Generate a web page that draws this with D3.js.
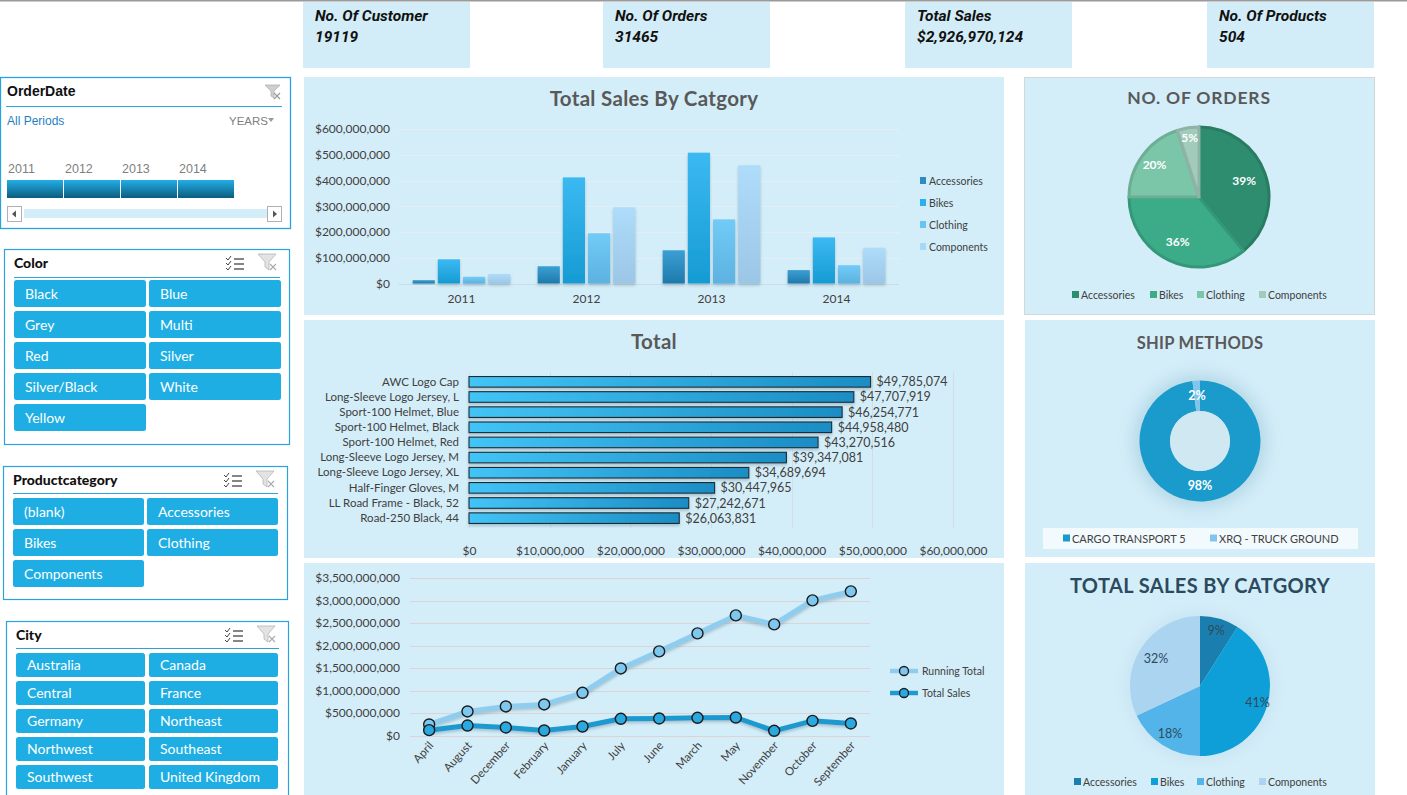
<!DOCTYPE html>
<html><head><meta charset="utf-8">
<script src="https://cdn.jsdelivr.net/npm/d3@7"></script>
<style>
body{margin:0;background:#fff;overflow:hidden;}
svg{display:block;}
text{font-family:Lato,"Noto Sans",sans-serif;}
</style></head><body>
<svg id="c" width="1407" height="795"></svg>
<script>
// ---------------- DATA ----------------
const kpiLabels = ["No. Of Customer","No. Of Orders","Total Sales","No. Of Products"];
const kpiValues = ["19119","31465","$2,926,970,124","504"];

const years = ["2011","2012","2013","2014"];
const categories = ["Accessories","Bikes","Clothing","Components"];
const salesAccessories = [13e6, 67e6, 129e6, 52e6];
const salesBikes = [94e6, 412e6, 508e6, 179e6];
const salesClothing = [26e6, 195e6, 249e6, 71e6];
const salesComponents = [37e6, 296e6, 459e6, 139e6];
const salesTicks = [0,1e8,2e8,3e8,4e8,5e8,6e8];

const products = ["AWC Logo Cap","Long-Sleeve Logo Jersey, L","Sport-100 Helmet, Blue","Sport-100 Helmet, Black","Sport-100 Helmet, Red","Long-Sleeve Logo Jersey, M","Long-Sleeve Logo Jersey, XL","Half-Finger Gloves, M","LL Road Frame - Black, 52","Road-250 Black, 44"];
const productSales = [49785074,47707919,46254771,44958480,43270516,39347081,34689694,30447965,27242671,26063831];
const productTicks = [0,1e7,2e7,3e7,4e7,5e7,6e7];

const months = ["April","August","December","February","January","July","June","March","May","November","October","September"];
const runningTotal = [245e6,534e6,645e6,690e6,949e6,1490e6,1869e6,2269e6,2669e6,2469e6,3003e6,3203e6];
const totalSales = [119e6,222e6,178e6,111e6,200e6,371e6,378e6,393e6,400e6,104e6,326e6,267e6];
const lineTicks = [0,5e8,1e9,1.5e9,2e9,2.5e9,3e9,3.5e9];

const orderShare = [39,36,20,5];
const shipMethods = ["CARGO TRANSPORT 5","XRQ - TRUCK GROUND"];
const shipShare = [98,2];
const salesShare = [9,41,18,32];

const slicerYears = ["2011","2012","2013","2014"];
const colorItems = ["Black","Blue","Grey","Multi","Red","Silver","Silver/Black","White","Yellow"];
const categoryItems = ["(blank)","Accessories","Bikes","Clothing","Components"];
const cityItems = ["Australia","Canada","Central","France","Germany","Northeast","Northwest","Southeast","Southwest","United Kingdom"];

// ---------------- SETUP ----------------
const svg = d3.select("#c");
const PANEL = "#d4eef9";
const TXT = "#404040";
const defs = svg.append("defs");

function vgrad(id, c1, c2){
  const g = defs.append("linearGradient").attr("id",id).attr("x1",0).attr("y1",0).attr("x2",0).attr("y2",1);
  g.append("stop").attr("offset","0%").attr("stop-color",c1);
  g.append("stop").attr("offset","100%").attr("stop-color",c2);
}
function hgrad(id, c1, c2){
  const g = defs.append("linearGradient").attr("id",id).attr("x1",0).attr("y1",0).attr("x2",1).attr("y2",0);
  g.append("stop").attr("offset","0%").attr("stop-color",c1);
  g.append("stop").attr("offset","100%").attr("stop-color",c2);
}
vgrad("gAcc","#3c9fd4","#1d7aab");
vgrad("gBik","#3bb9f2","#169bd3");
vgrad("gClo","#72cbf7","#5cb2e0");
vgrad("gCom","#afdcfa","#9cc6e6");
hgrad("gHbar","#42c4f7","#1a8dc4");
vgrad("gTime","#22aee6","#0c5d7e");
const sh = defs.append("filter").attr("id","shadow").attr("x","-20%").attr("y","-20%").attr("width","140%").attr("height","160%");
sh.append("feDropShadow").attr("dx",0).attr("dy",2).attr("stdDeviation",1.5).attr("flood-color","#6a8a9a").attr("flood-opacity",0.45);
const glow = defs.append("filter").attr("id","glow").attr("x","-50%").attr("y","-50%").attr("width","200%").attr("height","200%");
glow.append("feGaussianBlur").attr("stdDeviation",9);

// top line
svg.append("rect").attr("x",0).attr("y",0).attr("width",1407).attr("height",1.5).attr("fill","#9a9a9a");

// ---------------- KPI CARDS ----------------
const kpiX = [303,603,905,1207];
const kg = svg.selectAll("g.kpi").data(kpiLabels).join("g").attr("class","kpi")
  .attr("transform",(d,i)=>`translate(${kpiX[i]},2)`);
kg.append("rect").attr("width",167).attr("height",66).attr("rx",1).attr("fill","#d3edf8");
kg.append("text").attr("x",12).attr("y",19).text(d=>d)
  .style("font-family","'Liberation Sans Narrow','Roboto',sans-serif").style("font-weight","bold").style("font-style","italic").style("font-size","15.5px").attr("fill","#111");
kg.append("text").attr("x",12).attr("y",40).text((d,i)=>kpiValues[i])
  .style("font-family","'Liberation Sans Narrow','Roboto',sans-serif").style("font-weight","bold").style("font-style","italic").style("font-size","15.5px").attr("fill","#111");

// ---------------- ORDERDATE SLICER ----------------
{
  const g = svg.append("g");
  g.append("rect").attr("x",0.5).attr("y",77.5).attr("width",290).attr("height",151).attr("fill","#fff").attr("stroke","#2aa3da").attr("stroke-width",1.3);
  g.append("text").attr("x",7).attr("y",96).text("OrderDate").style("font-family","'Liberation Sans',Arial,sans-serif").style("font-weight","bold").style("font-size","14px").attr("fill","#111");
  g.append("line").attr("x1",6).attr("x2",282).attr("y1",106.5).attr("y2",106.5).attr("stroke","#2aa3da");
  g.append("text").attr("x",7).attr("y",125).text("All Periods").style("font-family","'Liberation Sans',Arial,sans-serif").style("font-size","12px").attr("fill","#1f7fbf");
  g.append("text").attr("x",229).attr("y",125).text("YEARS").style("font-family","'Liberation Sans',Arial,sans-serif").style("font-size","11.5px").attr("fill","#808080");
  g.append("path").attr("d","M268,118 l6,0 l-3,4 z").attr("fill","#999");
  g.append("path").attr("d","M265,85 l15,0 l-6,6 l0,7 l-3,-2 l0,-5 z").attr("fill","#cfcfcf").attr("stroke","#aaa").attr("stroke-width",0.7);
  g.append("path").attr("d","M274,93 l6,6 M280,93 l-6,6").attr("stroke","#999").attr("stroke-width",1.2);
  const tx = d3.scaleBand().domain(slicerYears).range([7,235]);
  g.selectAll("text.yr").data(slicerYears).join("text").attr("class","yr")
    .attr("x",d=>tx(d)+1).attr("y",173).text(d=>d).style("font-family","'Liberation Sans',Arial,sans-serif").style("font-size","12.5px").attr("fill","#7f7f7f");
  g.selectAll("rect.seg").data(slicerYears).join("rect").attr("class","seg")
    .attr("x",d=>tx(d)).attr("y",180).attr("width",tx.bandwidth()-1).attr("height",18).attr("fill","url(#gTime)");
  g.append("rect").attr("x",7.5).attr("y",206.5).attr("width",14).attr("height",15).attr("fill","#fff").attr("stroke","#b0b0b0");
  g.append("path").attr("d","M12,214 l4,-3.5 l0,7 z").attr("fill","#555");
  g.append("rect").attr("x",24).attr("y",209).attr("width",243).attr("height",9).attr("fill","#d3eef9");
  g.append("rect").attr("x",267.5).attr("y",206.5).attr("width",14).attr("height",15).attr("fill","#fff").attr("stroke","#b0b0b0");
  g.append("path").attr("d","M277,214 l-4,-3.5 l0,7 z").attr("fill","#555");
}

// ---------------- BUTTON SLICERS ----------------
function slicer(cfg){
  const g = svg.append("g");
  g.append("rect").attr("x",cfg.x+0.5).attr("y",cfg.y+0.5).attr("width",cfg.w).attr("height",cfg.h).attr("fill","#fff").attr("stroke","#2aa3da").attr("stroke-width",1.2);
  g.append("text").attr("x",cfg.tx).attr("y",cfg.ty).text(cfg.title).style("font-weight","900").style("font-size","14px").attr("fill","#111");
  g.append("line").attr("x1",cfg.tx).attr("x2",cfg.lx2).attr("y1",cfg.ly+0.5).attr("y2",cfg.ly+0.5).attr("stroke","#2aa3da").attr("stroke-width",1.2);
  const ix = cfg.lx2 - 54, iy = cfg.ty - 13;
  for(let k=0;k<3;k++){
    g.append("path").attr("d",`M${ix},${iy+3+k*5} l2,2 l3,-4`).attr("fill","none").attr("stroke","#444").attr("stroke-width",1);
    g.append("line").attr("x1",ix+8).attr("x2",ix+18).attr("y1",iy+4+k*5).attr("y2",iy+4+k*5).attr("stroke","#444").attr("stroke-width",1.3);
  }
  const fx = cfg.lx2 - 22, fy = cfg.ty - 14;
  g.append("path").attr("d",`M${fx},${fy} l18,0 l-7,8 l0,8 l-4,-3 l0,-5 z`).attr("fill","#e3e3e3").attr("stroke","#b5b5b5").attr("stroke-width",0.8);
  g.append("path").attr("d",`M${fx+12},${fy+10} l6,6 M${fx+18},${fy+10} l-6,6`).attr("stroke","#aaa").attr("stroke-width",1.1);
  const b = g.selectAll("g.btn").data(cfg.items).join("g").attr("class","btn")
    .attr("transform",(d,i)=>`translate(${cfg.bx[i%2]},${cfg.by + Math.floor(i/2)*cfg.step})`);
  b.append("rect").attr("width",cfg.bw).attr("height",cfg.bh).attr("rx",2.5).attr("fill","#1eaee3");
  b.append("text").attr("x",11).attr("y",cfg.bh/2+5).text(d=>d).style("font-size","14px").attr("fill","#fff");
}
slicer({x:4,y:249,w:285,h:195,title:"Color",tx:14,ty:268,ly:277,lx2:280,items:colorItems,bx:[14,149],bw:132,by:280,bh:27,step:31});
slicer({x:3,y:466,w:284,h:133,title:"Productcategory",tx:13,ty:485,ly:493,lx2:278,items:categoryItems,bx:[13,147],bw:131,by:498,bh:27,step:31});
slicer({x:6,y:621,w:282,h:185,title:"City",tx:16,ty:640,ly:648,lx2:279,items:cityItems,bx:[16,149],bw:129,by:653,bh:24,step:28});

// ---------------- PANELS ----------------
function panel(x,y,w,h,stroke){
  svg.append("rect").attr("x",x).attr("y",y).attr("width",w).attr("height",h).attr("fill",PANEL)
    .attr("stroke",stroke||"none").attr("stroke-width",1);
}
panel(304,77,700,238);
panel(1024.5,77.5,350,237,"#d0d8dc");
panel(304,320,700,238);
panel(1025,320,350,237);
panel(304,563,700,240);
panel(1025,563,350,240);

function title(x,y,t,size,color,ls){
  svg.append("text").attr("x",x).attr("y",y).attr("text-anchor","middle").text(t)
    .style("font-weight","bold").style("font-size",size+"px").style("letter-spacing",(ls||0)+"px").attr("fill",color||"#595959");
}

// ---------------- CLUSTERED COLUMN ----------------
{
  const g = svg.append("g");
  title(654,106,"Total Sales By Catgory",20.5,"#595959",0.3);
  const y = d3.scaleLinear().domain([0,6e8]).range([283.5,129]);
  const x0 = d3.scaleBand().domain(years).range([399,899]).paddingInner(0.17).paddingOuter(0.085);
  const x1 = d3.scaleBand().domain(categories).range([0,x0.bandwidth()]).padding(0.12);
  const series = [salesAccessories,salesBikes,salesClothing,salesComponents];
  const fills = ["url(#gAcc)","url(#gBik)","url(#gClo)","url(#gCom)"];
  const legendCols = ["#2a8cc2","#2ab0ec","#66c5f5","#a8d8f7"];
  g.selectAll("line.grid").data(salesTicks).join("line").attr("class","grid")
    .attr("x1",399).attr("x2",899).attr("y1",d=>Math.round(y(d))+0.5).attr("y2",d=>Math.round(y(d))+0.5)
    .attr("stroke",d=>d===0?"#c9dde6":"#e2eff5").attr("stroke-width",1);
  const ax = d3.axisLeft(y).tickValues(salesTicks).tickSize(0).tickPadding(0).tickFormat(d=>"$"+d3.format(",")(d));
  const ag = g.append("g").attr("transform","translate(390,0)").call(ax);
  ag.select(".domain").remove();
  ag.selectAll("text").style("font-size","12px").attr("fill",TXT).style("font-family","Lato,sans-serif");
  const xa = d3.axisBottom(x0).tickSize(0).tickPadding(9);
  const xg = g.append("g").attr("transform","translate(0,285)").call(xa);
  xg.select(".domain").remove();
  xg.selectAll("text").style("font-size","12px").attr("fill",TXT).style("font-family","Lato,sans-serif");
  const grp = g.selectAll("g.yr").data(years).join("g").attr("class","yr").attr("transform",d=>`translate(${x0(d)},0)`);
  grp.selectAll("rect").data((d,i)=>categories.map((c,k)=>({c,k,v:series[k][i]}))).join("rect")
    .attr("x",d=>x1(d.c)).attr("width",x1.bandwidth()).attr("y",d=>y(d.v)).attr("height",d=>y(0)-y(d.v))
    .attr("fill",d=>fills[d.k]).attr("filter","url(#shadow)");
  const lg = g.selectAll("g.lg").data(categories).join("g").attr("class","lg").attr("transform",(d,i)=>`translate(920,${181+i*22})`);
  lg.append("rect").attr("x",0).attr("y",-4).attr("width",6).attr("height",7).attr("fill",(d,i)=>legendCols[i]);
  lg.append("text").attr("x",9).attr("y",4).text(d=>d).style("font-size","10.5px").attr("fill",TXT);
}

// ---------------- PIE: NO. OF ORDERS ----------------
{
  const g = svg.append("g");
  title(1199,104,"NO. OF ORDERS",17.5,"#595959",0.8);
  const cols = ["#2e8c6f","#3bab88","#7bc5a8","#a2cbbc"];
  const arcs = d3.pie().sort(null).value(d=>d)(orderShare);
  const arc = d3.arc().innerRadius(0).outerRadius(70);
  const c = g.append("g").attr("transform","translate(1199,197)");
  c.selectAll("path").data(arcs).join("path").attr("d",arc).attr("fill",(d,i)=>cols[i])
    .attr("stroke",(d,i)=>d3.color(cols[i]).darker(0.35)).attr("stroke-width",3).attr("stroke-linejoin","round");
  const labR = [48,50,55,60];
  c.selectAll("text").data(arcs).join("text")
    .attr("transform",(d,i)=>{const a=(d.startAngle+d.endAngle)/2;return `translate(${Math.sin(a)*labR[i]},${-Math.cos(a)*labR[i]+4})`;})
    .attr("text-anchor","middle").text((d,i)=>orderShare[i]+"%").style("font-weight","bold").style("font-size","12px").attr("fill","#fff");
  const lx = [1072,1150,1197,1259];
  const lg = g.selectAll("g.lg").data(categories).join("g").attr("class","lg").attr("transform",(d,i)=>`translate(${lx[i]},295)`);
  lg.append("rect").attr("y",-4).attr("width",7).attr("height",7).attr("fill",(d,i)=>cols[i]);
  lg.append("text").attr("x",9).attr("y",4).text(d=>d).style("font-size","10.5px").attr("fill",TXT);
}

// ---------------- HORIZONTAL BAR: TOTAL ----------------
{
  const g = svg.append("g");
  title(654,349,"Total",20.5,"#595959",0.3);
  const x = d3.scaleLinear().domain([0,6e7]).range([469,953]);
  const y = d3.scaleBand().domain(products).range([372,528]).padding(0.3);
  g.selectAll("line.grid").data(productTicks).join("line").attr("class","grid")
    .attr("x1",d=>Math.round(x(d))+0.5).attr("x2",d=>Math.round(x(d))+0.5).attr("y1",372).attr("y2",528)
    .attr("stroke","#d4dde2");
  const xa = d3.axisBottom(x).tickValues(productTicks).tickSize(0).tickPadding(0).tickFormat(d=>"$"+d3.format(",")(d));
  const xg = g.append("g").attr("transform","translate(0,546)").call(xa);
  xg.select(".domain").remove();
  xg.selectAll("text").style("font-size","12px").attr("fill",TXT).style("font-family","Lato,sans-serif");
  const ya = d3.axisLeft(y).tickSize(0).tickPadding(0);
  const yg = g.append("g").attr("transform","translate(459,0)").call(ya);
  yg.select(".domain").remove();
  yg.selectAll("text").style("font-size","11.5px").attr("fill",TXT).style("font-family","Lato,sans-serif");
  g.selectAll("rect.bar").data(products).join("rect").attr("class","bar")
    .attr("x",x(0)).attr("y",d=>y(d)).attr("height",y.bandwidth()).attr("width",(d,i)=>x(productSales[i])-x(0))
    .attr("fill","url(#gHbar)").attr("stroke","#1a2a33").attr("stroke-width",1.1).attr("filter","url(#shadow)");
  g.selectAll("text.val").data(products).join("text").attr("class","val")
    .attr("x",(d,i)=>x(productSales[i])+6).attr("y",d=>y(d)+y.bandwidth()/2+4.5)
    .text((d,i)=>"$"+d3.format(",")(productSales[i])).style("font-size","12.5px").attr("fill",TXT);
}

// ---------------- DONUT: SHIP METHODS ----------------
{
  const g = svg.append("g");
  title(1200,349,"SHIP METHODS",16.5,"#595959",0.3);
  const c = g.append("g").attr("transform","translate(1200,441)");
  c.append("circle").attr("r",66).attr("fill","#a9cfe0").attr("filter","url(#glow)").attr("opacity",0.8);
  const cols = ["#1a9bcc","#80c6ec"];
  const arcs = d3.pie().sort(null).value(d=>d)(shipShare);
  const arc = d3.arc().innerRadius(30).outerRadius(60.5);
  c.selectAll("path").data(arcs).join("path").attr("d",arc).attr("fill",(d,i)=>cols[i]);
  c.append("circle").attr("r",30).attr("fill","#cfe8f2");
  const pos = [[0,49],[-3,-41]];
  c.selectAll("text").data(arcs).join("text").attr("x",(d,i)=>pos[i][0]).attr("y",(d,i)=>pos[i][1])
    .attr("text-anchor","middle").text((d,i)=>shipShare[i]+"%").style("font-weight","bold").style("font-size","12.5px").attr("fill","#fff");
  g.append("rect").attr("x",1043).attr("y",528).attr("width",315).attr("height",21).attr("fill","#f3fafd");
  const lx = [1063,1210];
  const lg = g.selectAll("g.lg").data(shipMethods).join("g").attr("class","lg").attr("transform",(d,i)=>`translate(${lx[i]},538)`);
  lg.append("rect").attr("y",-3.5).attr("width",7).attr("height",7).attr("fill",(d,i)=>cols[i]);
  lg.append("text").attr("x",9).attr("y",4.5).text(d=>d).style("font-size","11px").attr("fill",TXT);
}

// ---------------- LINE CHART ----------------
{
  const g = svg.append("g");
  const y = d3.scaleLinear().domain([0,3.5e9]).range([735.5,578]);
  const x = d3.scaleBand().domain(months).range([410,870]);
  const cx = d => x(d)+x.bandwidth()/2;
  g.selectAll("line.grid").data(lineTicks).join("line").attr("class","grid")
    .attr("x1",410).attr("x2",870).attr("y1",d=>Math.round(y(d))+0.5).attr("y2",d=>Math.round(y(d))+0.5)
    .attr("stroke","#dcd4d4");
  const ya = d3.axisLeft(y).tickValues(lineTicks).tickSize(0).tickPadding(0).tickFormat(d=>"$"+d3.format(",")(d));
  const yg = g.append("g").attr("transform","translate(400,0)").call(ya);
  yg.select(".domain").remove();
  yg.selectAll("text").style("font-size","12px").attr("fill",TXT).style("font-family","Lato,sans-serif");
  const xg = g.append("g").attr("transform","translate(0,741)").call(d3.axisBottom(x).tickSize(0).tickPadding(0));
  xg.select(".domain").remove();
  xg.selectAll("text").attr("text-anchor","end").attr("dy",0).attr("transform","translate(5,5) rotate(-48)")
    .style("font-size","11.5px").attr("fill",TXT).style("font-family","Lato,sans-serif");
  const line = d3.line().x(d=>cx(d.m)).y(d=>y(d.v));
  const rt = months.map((m,i)=>({m,v:runningTotal[i]}));
  const ts = months.map((m,i)=>({m,v:totalSales[i]}));
  const specs = [{d:rt,lc:"#8fcdef",fc:"#7ec8f0"},{d:ts,lc:"#1d9ad0",fc:"#2aa9e1"}];
  specs.forEach(s=>{
    g.append("path").datum(s.d).attr("d",line).attr("fill","none").attr("stroke",s.lc).attr("stroke-width",5).attr("stroke-linejoin","round").attr("filter","url(#shadow)");
    g.selectAll(null).data(s.d).join("circle").attr("cx",d=>cx(d.m)).attr("cy",d=>y(d.v)).attr("r",5.5)
      .attr("fill",s.fc).attr("stroke","#1b1b1b").attr("stroke-width",1.4);
  });
  const leg = [{t:"Running Total",lc:"#8fcdef",fc:"#7ec8f0",y:671},{t:"Total Sales",lc:"#1d9ad0",fc:"#2aa9e1",y:693}];
  const lg = g.selectAll("g.lg").data(leg).join("g").attr("class","lg").attr("transform",d=>`translate(890,${d.y})`);
  lg.append("line").attr("x1",0).attr("x2",28).attr("stroke",d=>d.lc).attr("stroke-width",4.5);
  lg.append("circle").attr("cx",14).attr("r",4.5).attr("fill",d=>d.fc).attr("stroke","#1b1b1b").attr("stroke-width",1.3);
  lg.append("text").attr("x",32).attr("y",4).text(d=>d.t).style("font-size","10.5px").attr("fill",TXT);
}

// ---------------- PIE: TOTAL SALES BY CATGORY ----------------
{
  const g = svg.append("g");
  title(1200,593,"TOTAL SALES BY CATGORY",20,"#2c4a5f",0.4);
  const cols = ["#1a7fae","#0f9fd8","#52b4e8","#aad4f0"];
  const arcs = d3.pie().sort(null).value(d=>d)(salesShare);
  const arc = d3.arc().innerRadius(0).outerRadius(70);
  const c = g.append("g").attr("transform","translate(1200,686)");
  c.append("circle").attr("r",72).attr("fill","#b9d9e8").attr("filter","url(#glow)").attr("opacity",0.6);
  c.selectAll("path").data(arcs).join("path").attr("d",arc).attr("fill",(d,i)=>cols[i]);
  const labR = [58,60,56,52];
  c.selectAll("text").data(arcs).join("text")
    .attr("transform",(d,i)=>{const a=(d.startAngle+d.endAngle)/2;return `translate(${Math.sin(a)*labR[i]},${-Math.cos(a)*labR[i]+4.5})`;})
    .attr("text-anchor","middle").text((d,i)=>salesShare[i]+"%").style("font-size","12.5px").attr("fill","#2f4a5c");
  const lx = [1074,1151,1197,1259];
  const lg = g.selectAll("g.lg").data(categories).join("g").attr("class","lg").attr("transform",(d,i)=>`translate(${lx[i]},782)`);
  lg.append("rect").attr("y",-4).attr("width",7).attr("height",7).attr("fill",(d,i)=>cols[i]);
  lg.append("text").attr("x",9).attr("y",4).text(d=>d).style("font-size","10.5px").attr("fill",TXT);
}
</script>
</body></html>
